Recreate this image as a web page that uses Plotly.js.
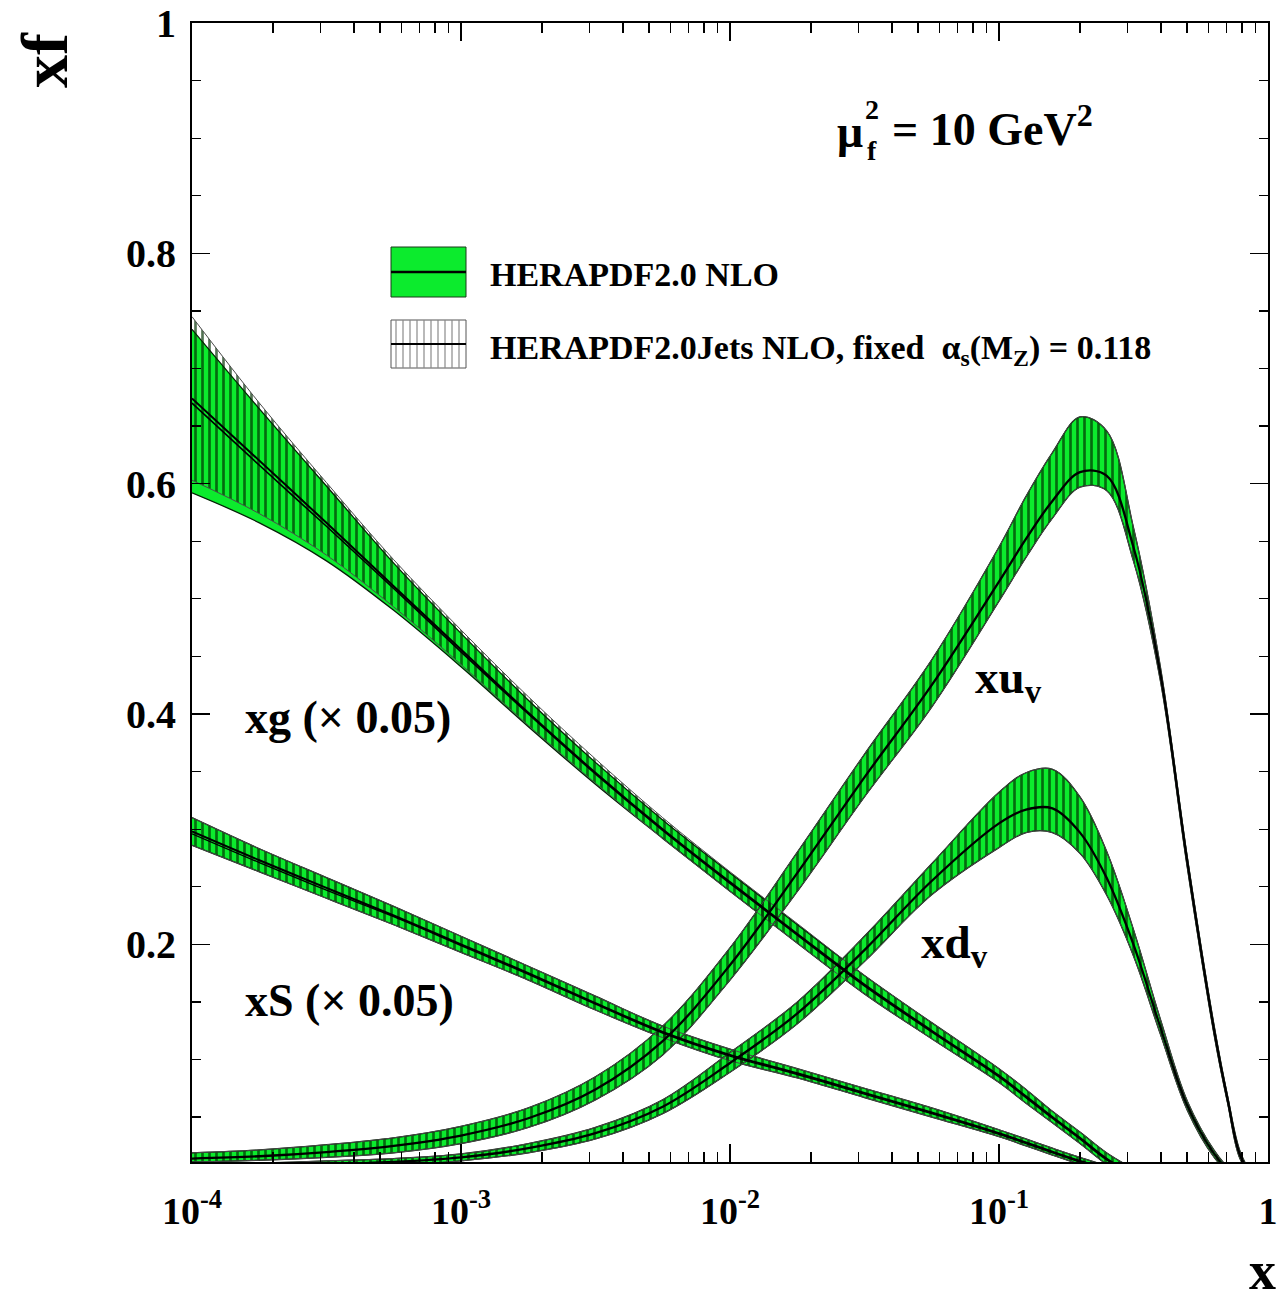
<!DOCTYPE html>
<html><head><meta charset="utf-8">
<script src="https://cdn.plot.ly/plotly-3.0.1.min.js"></script>
<style>html,body{margin:0;padding:0;background:#fff}</style>
</head><body><div id="chart" style="width:1280px;height:1305px"></div>
<script>
// x grid (log spaced sampling points)
const xFull = [0.0001,0.000178,0.000316,0.000562,0.001,0.00178,0.00316,0.00562,0.01,0.0178,0.0316,0.0562,0.1,0.126,0.158,0.2,0.251,0.316,0.398,0.501,0.631,0.708,0.794,0.891,1.0];
const xLow  = [0.0001,0.000178,0.000316,0.000562,0.001,0.00178,0.00316,0.00562,0.01,0.0178,0.0316,0.0562,0.1,0.126,0.158,0.2,0.251,0.316];

// xg (x 0.05)
const gCen   = [0.674,0.620,0.566,0.511,0.456,0.401,0.349,0.300,0.254,0.209,0.165,0.125,0.086,0.068,0.050,0.032,0.014,0.000];
const gUp    = [0.734,0.665,0.598,0.531,0.470,0.412,0.358,0.308,0.262,0.217,0.173,0.132,0.092,0.074,0.055,0.037,0.019,0.005];
const gLo    = [0.592,0.566,0.533,0.490,0.441,0.389,0.339,0.292,0.246,0.201,0.157,0.118,0.080,0.062,0.045,0.027,0.009,-0.005];
const gJCen  = [0.670,0.616,0.563,0.509,0.454,0.400,0.348,0.299,0.253,0.208,0.164,0.124,0.085,0.067,0.049,0.031,0.013,0.000];
const gJUp   = [0.745,0.670,0.601,0.534,0.473,0.415,0.361,0.310,0.263,0.218,0.173,0.132,0.092,0.074,0.055,0.037,0.019,0.005];
const gJLo   = [0.603,0.574,0.538,0.493,0.443,0.390,0.340,0.292,0.246,0.201,0.157,0.118,0.080,0.062,0.045,0.027,0.009,-0.005];

// xS (x 0.05)
const sCen   = [0.298,0.273,0.249,0.225,0.200,0.175,0.149,0.124,0.104,0.088,0.071,0.054,0.036,0.028,0.020,0.012,0.005,0.000];
const sUp    = [0.310,0.283,0.258,0.233,0.207,0.181,0.155,0.129,0.109,0.092,0.075,0.058,0.039,0.031,0.023,0.015,0.008,0.003];
const sLo    = [0.286,0.263,0.240,0.217,0.193,0.169,0.143,0.119,0.099,0.084,0.067,0.050,0.033,0.025,0.017,0.009,0.002,-0.003];
const sJCen  = [0.296,0.271,0.247,0.224,0.199,0.174,0.148,0.123,0.103,0.087,0.070,0.053,0.035,0.027,0.019,0.011,0.004,0.000];

// xu_v
const uCen   = [0.014,0.016,0.0196,0.025,0.034,0.049,0.074,0.116,0.182,0.262,0.345,0.425,0.515,0.552,0.585,0.610,0.607,0.545,0.435,0.272,0.125,0.065,0.015,0.000,0.000];
const uUp    = [0.019,0.0215,0.026,0.032,0.042,0.058,0.085,0.129,0.197,0.280,0.365,0.447,0.545,0.589,0.627,0.658,0.646,0.562,0.441,0.276,0.129,0.068,0.018,0.000,0.000];
const uLo    = [0.011,0.0125,0.015,0.019,0.027,0.041,0.065,0.104,0.169,0.246,0.328,0.406,0.498,0.536,0.570,0.597,0.594,0.533,0.429,0.267,0.121,0.062,0.012,0.000,0.000];

// xd_v
const dCen   = [0.006,0.007,0.009,0.011,0.015,0.023,0.036,0.059,0.097,0.140,0.195,0.255,0.305,0.317,0.318,0.297,0.258,0.200,0.128,0.060,0.018,0.005,0.000,0.000,0.000];
const dUp    = [0.009,0.010,0.012,0.014,0.018,0.027,0.041,0.065,0.106,0.150,0.207,0.270,0.332,0.349,0.352,0.328,0.281,0.213,0.135,0.064,0.021,0.007,0.000,0.000,0.000];
const dLo    = [0.003,0.004,0.006,0.008,0.012,0.019,0.031,0.053,0.089,0.131,0.185,0.243,0.284,0.297,0.297,0.279,0.243,0.190,0.122,0.056,0.015,0.003,0.000,0.000,0.000];

const xTickVals = [0.0001,0.001,0.01,0.1,1];
const xTickText = ['10<sup>-4</sup>','10<sup>-3</sup>','10<sup>-2</sup>','10<sup>-1</sup>','1'];

const GREEN = 'rgb(12,235,45)';
const FONT = 'Liberation Serif, Times New Roman, serif';
const HATCH = {shape:'|', size:7, solidity:0.38, fgcolor:'rgba(0,45,0,0.68)', bgcolor:'rgba(0,0,0,0)'};

function line(x, y, color, width) {
  return {x:x, y:y, type:'scatter', mode:'lines', line:{color:color, width:width, shape:'spline', smoothing:1.0},
          showlegend:false, hoverinfo:'skip'};
}
function greenBand(x, lo, hi) {
  const a = line(x, lo, '#062006', 1.3);
  const b = line(x, hi, '#062006', 1.3);
  b.fill = 'tonexty'; b.fillcolor = GREEN;
  return [a, b];
}
function hatchBand(x, lo, hi) {
  const a = line(x, lo, '#4a4a4a', 1);
  const b = line(x, hi, '#4a4a4a', 1);
  b.fill = 'tonexty'; b.fillcolor = 'rgba(0,0,0,0)'; b.fillpattern = HATCH;
  return [a, b];
}

const traces = [].concat(
  greenBand(xLow, gLo, gUp),
  greenBand(xLow, sLo, sUp),
  greenBand(xFull, uLo, uUp),
  greenBand(xFull, dLo, dUp),
  hatchBand(xLow, gJLo, gJUp),
  hatchBand(xLow, sLo, sUp),
  hatchBand(xFull, uLo, uUp),
  hatchBand(xFull, dLo, dUp),
  [line(xLow, gCen, '#000', 2), line(xLow, gJCen, '#000', 1.6),
   line(xLow, sCen, '#000', 2), line(xLow, sJCen, '#000', 1.4),
   line(xFull, uCen, '#000', 2.3), line(xFull, dCen, '#000', 2.3)]
);

// plot-area pixel helpers for decorations (left 192, right 1268, top 23, bottom 1162)
const PX = v => (v - 192) / 1076;
const PY = v => (1162 - v) / 1139;

const shapes = [
  {type:'rect', xref:'paper', yref:'paper', x0:PX(391), x1:PX(466), y0:PY(297), y1:PY(247),
   fillcolor:GREEN, line:{color:'#1a3a1a', width:1}},
  {type:'line', xref:'paper', yref:'paper', x0:PX(391), x1:PX(466), y0:PY(272), y1:PY(272),
   line:{color:'#000', width:2.5}},
  {type:'rect', xref:'paper', yref:'paper', x0:PX(391), x1:PX(466), y0:PY(368), y1:PY(320),
   fillcolor:'#fff', line:{color:'#555', width:1}}
];
for (let px = 396; px < 466; px += 7) {
  shapes.push({type:'line', xref:'paper', yref:'paper', x0:PX(px), x1:PX(px), y0:PY(368), y1:PY(320),
               line:{color:'#8a8a8a', width:1.2}});
}
shapes.push({type:'line', xref:'paper', yref:'paper', x0:PX(391), x1:PX(466), y0:PY(344), y1:PY(344),
             line:{color:'#000', width:1.8}});

function ann(text, x, y, size, xanchor, extra) {
  return Object.assign({text:text, xref:'paper', yref:'paper', x:x, y:y, showarrow:false,
    xanchor:xanchor || 'left', yanchor:'middle',
    font:{family:FONT, size:size, color:'#000', weight:'bold'}}, extra || {});
}

const annotations = [
  ann('<b>HERAPDF2.0 NLO</b>', PX(488), PY(274), 34),
  ann('<b>HERAPDF2.0Jets NLO, fixed  α<sub>s</sub>(M<sub>Z</sub>) = 0.118</b>', PX(488), PY(350), 34),
  ann('<b>xg (× 0.05)</b>', PX(243), PY(717), 46),
  ann('<b>xS (× 0.05)</b>', PX(243), PY(1000), 46),
  ann('<b>xu<sub>v</sub></b>', PX(973), PY(680), 47),
  ann('<b>xd<sub>v</sub></b>', PX(919), PY(945), 47),
  ann('<b>μ</b>', PX(835), PY(131), 46),
  ann('<b>2</b>', PX(863), PY(110), 28),
  ann('<b>f</b>', PX(865), PY(151), 28),
  ann('<b>= 10 GeV<sup>2</sup></b>', PX(890), PY(126), 46),
  ann('<b>xf</b>', PX(44), PY(60), 66, 'center', {textangle:-90}),
  ann('<b>x</b>', PX(1278), PY(1303), 54, 'right', {yanchor:'bottom'})
];

const layout = {
  width:1280, height:1305,
  margin:{l:192, r:12, t:23, b:143, pad:0},
  paper_bgcolor:'#fff', plot_bgcolor:'#fff',
  showlegend:false,
  xaxis:{type:'log', range:[-4,0], showgrid:false, zeroline:false,
    showline:true, linecolor:'#000', linewidth:2, mirror:'ticks',
    ticks:'inside', ticklen:18, tickwidth:1.5, tickcolor:'#000',
    tickvals:xTickVals, ticktext:xTickText,
    tickfont:{family:FONT, size:38, color:'#000', weight:'bold'},
    ticklabelstandoff:14,
    minor:{ticks:'inside', ticklen:10, tickwidth:1.2, tickcolor:'#000', dtick:'D1', showgrid:false}},
  yaxis:{range:[0.011,1], showgrid:false, zeroline:false,
    showline:true, linecolor:'#000', linewidth:2, mirror:'ticks',
    ticks:'inside', ticklen:18, tickwidth:1.5, tickcolor:'#000',
    tick0:0, dtick:0.2,
    tickfont:{family:FONT, size:40, color:'#000', weight:'bold'},
    ticklabelstandoff:6,
    minor:{ticks:'inside', ticklen:9, tickwidth:1.2, tickcolor:'#000', dtick:0.05, showgrid:false}},
  shapes:shapes,
  annotations:annotations
};

Plotly.newPlot('chart', traces, layout, {staticPlot:true, displayModeBar:false});
</script>
</body></html>
